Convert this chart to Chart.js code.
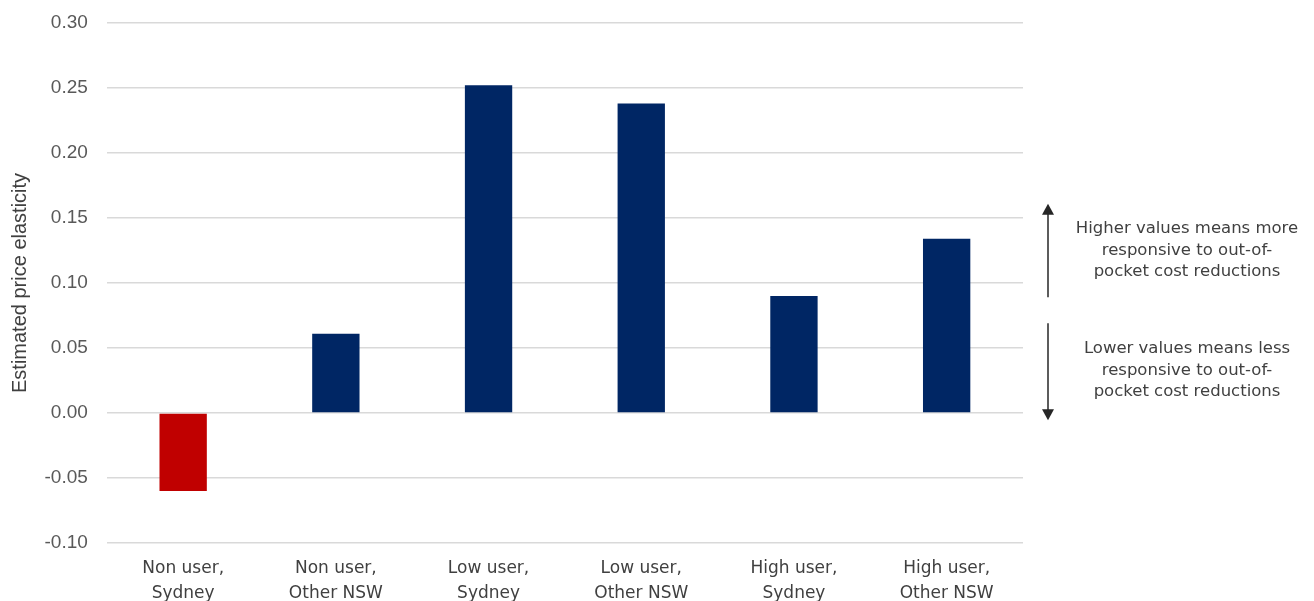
<!DOCTYPE html>
<html>
<head>
<meta charset="utf-8">
<script src="https://cdn.jsdelivr.net/npm/chart.js@4/dist/chart.umd.min.js"></script>
<style>
  html, body { margin: 0; padding: 0; background: #fff; overflow: hidden; }
  #wrap { width: 1314px; height: 601px; overflow: hidden; }
</style>
</head>
<body>
<div id="wrap"><canvas id="chart" width="1314" height="611"></canvas></div>
<script>
// Datos del gráfico
const categories = [
  ['Non user,', 'Sydney'],
  ['Non user,', 'Other NSW'],
  ['Low user,', 'Sydney'],
  ['Low user,', 'Other NSW'],
  ['High user,', 'Sydney'],
  ['High user,', 'Other NSW']
];
const elasticity = [-0.060, 0.061, 0.252, 0.238, 0.090, 0.134];
const barColors = ['#c00000', '#002664', '#002664', '#002664', '#002664', '#002664'];
const yTicks = [-0.10, -0.05, 0.00, 0.05, 0.10, 0.15, 0.20, 0.25, 0.30];

const upNote = ['Higher values means more', 'responsive to out-of-', 'pocket cost reductions'];
const downNote = ['Lower values means less', 'responsive to out-of-', 'pocket cost reductions'];

// Plugin para las flechas y notas a la derecha
const notesPlugin = {
  id: 'notes',
  afterDraw(chart) {
    const ctx = chart.ctx;
    const y = chart.scales.y;
    const ax = 1048;
    const tx = 1187;
    ctx.save();
    ctx.strokeStyle = '#262626';
    ctx.fillStyle = '#262626';
    ctx.lineWidth = 1.5;

    // flecha hacia arriba
    const upTop = y.getPixelForValue(0.161), upBot = y.getPixelForValue(0.089);
    ctx.beginPath(); ctx.moveTo(ax, upTop + 8); ctx.lineTo(ax, upBot); ctx.stroke();
    ctx.beginPath(); ctx.moveTo(ax, upTop); ctx.lineTo(ax - 6, upTop + 11); ctx.lineTo(ax + 6, upTop + 11); ctx.closePath(); ctx.fill();

    // flecha hacia abajo
    const dnTop = y.getPixelForValue(0.069), dnBot = y.getPixelForValue(-0.0055);
    ctx.beginPath(); ctx.moveTo(ax, dnTop); ctx.lineTo(ax, dnBot - 8); ctx.stroke();
    ctx.beginPath(); ctx.moveTo(ax, dnBot); ctx.lineTo(ax - 6, dnBot - 11); ctx.lineTo(ax + 6, dnBot - 11); ctx.closePath(); ctx.fill();

    ctx.fillStyle = '#404040';
    ctx.font = '16.5px "DejaVu Sans", sans-serif';
    ctx.textAlign = 'center';
    ctx.textBaseline = 'middle';
    upNote.forEach((t, i) => ctx.fillText(t, tx, 229 + i * 21.5));
    downNote.forEach((t, i) => ctx.fillText(t, tx, 349 + i * 21.5));
    ctx.restore();
  }
};

new Chart(document.getElementById('chart'), {
  type: 'bar',
  data: {
    labels: categories,
    datasets: [{
      data: elasticity,
      backgroundColor: barColors,
      borderWidth: 0,
      barPercentage: 0.62,
      categoryPercentage: 0.5
    }]
  },
  options: {
    responsive: false,
    animation: false,
    layout: { padding: { top: 0, right: 291, left: 8, bottom: 0 } },
    plugins: {
      legend: { display: false },
      tooltip: { enabled: false }
    },
    scales: {
      x: {
        grid: { display: false },
        border: { display: false },
        ticks: {
          color: '#404040',
          font: { family: '"DejaVu Sans", sans-serif', size: 17, lineHeight: 1.47 },
          padding: 5,
          maxRotation: 0
        }
      },
      y: {
        min: -0.10,
        max: 0.30,
        afterBuildTicks: axis => { axis.ticks = yTicks.map(v => ({ value: v })); },
        grid: { color: '#d9d9d9', lineWidth: 1.5, drawTicks: true, tickLength: 7.5, tickColor: 'rgba(0,0,0,0)' },
        border: { display: false },
        ticks: {
          color: '#595959',
          font: { family: '"Liberation Sans", Arial, sans-serif', size: 19 },
          padding: 11.5,
          callback: v => v.toFixed(2)
        },
        title: {
          display: true,
          text: 'Estimated price elasticity',
          color: '#404040',
          font: { family: '"Liberation Sans", Arial, sans-serif', size: 20 },
          padding: { top: 0, bottom: 1 }
        }
      }
    }
  },
  plugins: [notesPlugin]
});
</script>
</body>
</html>
